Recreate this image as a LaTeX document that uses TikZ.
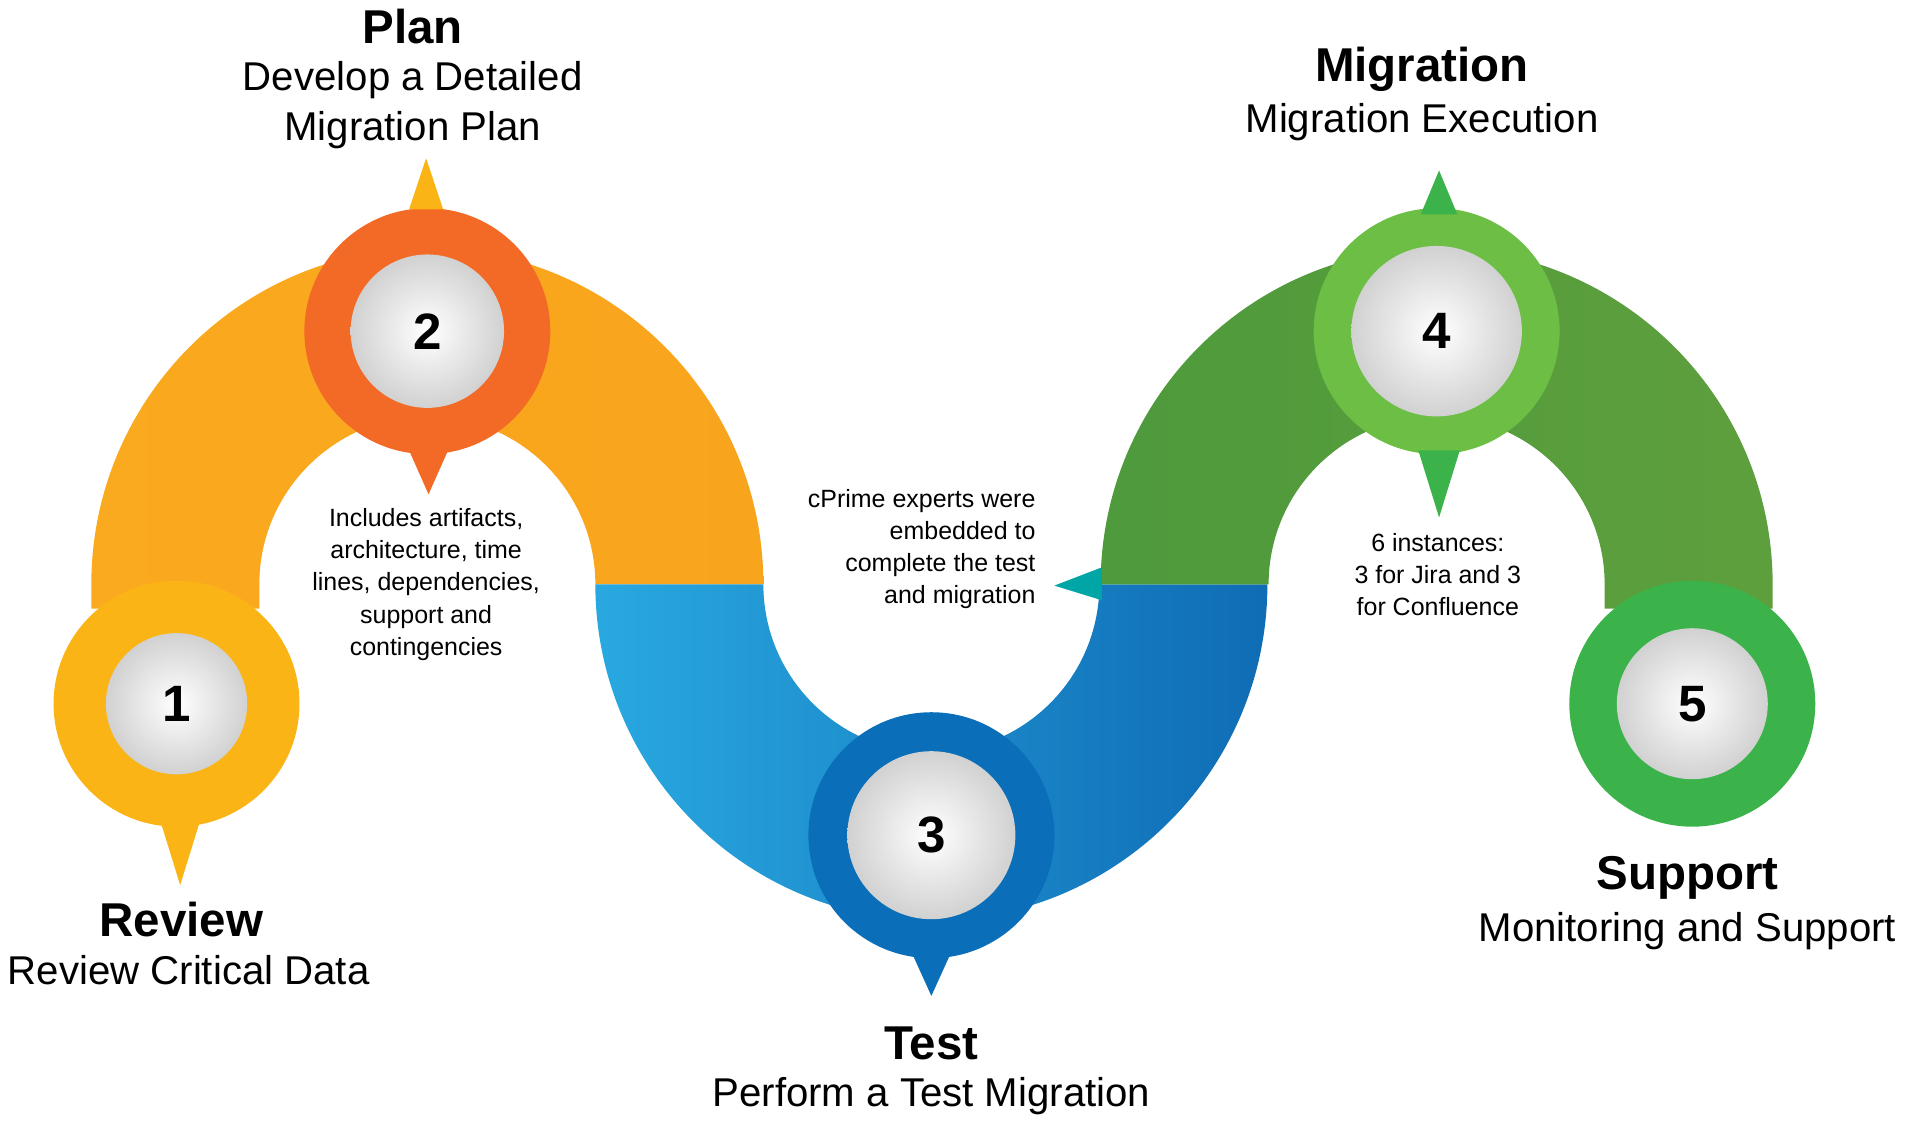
\documentclass[tikz,border=0pt]{standalone}
\usepackage{fontspec}
\setmainfont{Liberation Sans}
\definecolor{cy}{HTML}{FBB415}
\definecolor{co}{HTML}{F26A25}
\definecolor{cb}{HTML}{0A6EB8}
\definecolor{cg}{HTML}{6DBE45}
\definecolor{cgg}{HTML}{3BB34A}
\definecolor{bl1}{HTML}{29A8E0}
\definecolor{bl2}{HTML}{1F7CC2}
\definecolor{bl3}{HTML}{0F6CB5}
\definecolor{gr1}{HTML}{4E9A3C}
\definecolor{gr2}{HTML}{8DC63F}
\definecolor{gr3}{HTML}{5E9F3D}
\definecolor{or1}{HTML}{FAAA1E}
\definecolor{or2}{HTML}{F37A26}
\definecolor{or3}{HTML}{F9A41D}
\tikzset{
 ring/.style={circle,minimum size=202pt,inner sep=0pt},
 face/.style={circle,inner sep=0pt,inner color=white,outer color=black!18,font=\bfseries\fontsize{42}{42}\selectfont},
 title/.style={font=\bfseries\fontsize{39}{40}\selectfont},
 sub/.style={font=\fontsize{33}{41}\selectfont,align=center},
 small/.style={font=\fontsize{20.5}{26.5}\selectfont}
}
\begin{document}
\begin{tikzpicture}[x=1pt,y=-1pt]
\useasboundingbox (0,0) rectangle (1568,921);
% arcs
\shade[left color=or1,middle color=or2,right color=or3]
 (75,500) -- (75,480) arc[start angle=180,end angle=360,radius=276] -- (489,480) arc[start angle=360,end angle=180,radius=138] -- (213,500) -- cycle;
\shade[left color=bl1,middle color=bl2,right color=bl3]
 (489,480) arc[start angle=180,end angle=0,radius=276] -- (903,480) arc[start angle=0,end angle=180,radius=138] -- cycle;
\shade[left color=gr1,middle color=gr2,right color=gr3]
 (904,480) arc[start angle=180,end angle=360,radius=276] -- (1456,500) -- (1318,500) -- (1318,480) arc[start angle=360,end angle=180,radius=138] -- cycle;
\fill[teal!70!cyan] (905,466) -- (866,481) -- (905,493) -- cycle;
% circles
\node[ring,fill=cy] (c1) at (145,578) {};
\node[ring,fill=co] (c2) at (351,272) {};
\node[ring,fill=cb] (c3) at (765,686) {};
\node[ring,fill=cg] (c4) at (1180,272) {};
\node[ring,fill=cgg] (c5) at (1390,578) {};
% pointers
\fill[cy] (131,672) -- (148,727) -- (165,672) -- cycle;
\fill[cy] (336,172) -- (350,130) -- (364,172) -- cycle;
\fill[co] (336,370) -- (352,406) -- (368,370) -- cycle;
\fill[cb] (750,785) -- (765,818) -- (780,785) -- cycle;
\fill[cgg] (1167,176) -- (1182,140) -- (1197,176) -- cycle;
\fill[cgg] (1165,370) -- (1182,425) -- (1199,370) -- cycle;
% faces
\node[face,minimum size=116pt] (n1) at (c1) {1};
\node[face,minimum size=126pt] (n2) at (c2) {2};
\node[face,minimum size=138pt] (n3) at (c3) {3};
\node[face,minimum size=140pt] (n4) at (c4) {4};
\node[face,minimum size=124pt] (n5) at (c5) {5};
% titles
\node[title] (t2) at (339,22) {Plan};
\node[sub] (s2) at (339,86) {Develop a Detailed\\Migration Plan};
\node[title] (t4) at (1168,57) {Migration};
\node[sub] (s4) at (1168,100) {Migration Execution};
\node[title] (t1) at (149,755) {Review};
\node[sub] (s1) at (155,797) {Review Critical Data};
\node[title] (t3) at (765,857) {Test};
\node[sub] (s3) at (765,900) {Perform a Test Migration};
\node[title] (t5) at (1386,721) {Support};
\node[sub] (s5) at (1386,765) {Monitoring and Support};
% notes
\node[small,align=center] (a2) at (350,480) {Includes artifacts,\\architecture, time\\lines, dependencies,\\support and\\contingencies};
\node[small,align=right,anchor=east] (a3) at (854,451) {cPrime experts were\\embedded to\\complete the test\\and migration};
\node[small,align=center] (a4) at (1181,472) {6 instances:\\3 for Jira and 3\\for Confluence};
\end{tikzpicture}
\end{document}
